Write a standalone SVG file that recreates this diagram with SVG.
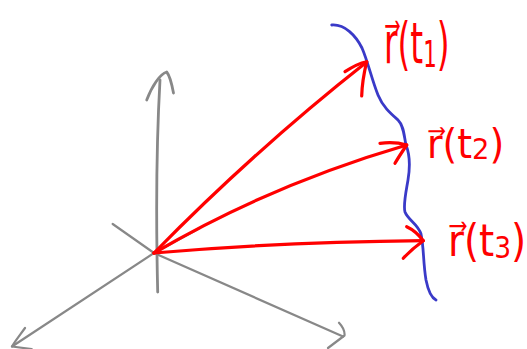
<svg xmlns="http://www.w3.org/2000/svg" width="527" height="349" viewBox="0 0 527 349">
  <style>
    .axis{fill:none;stroke:#888888;stroke-width:2.8;stroke-linecap:round;stroke-linejoin:round}
    .axis-thin{fill:none;stroke:#888888;stroke-width:2.2;stroke-linecap:round;stroke-linejoin:round}
    .vec{fill:none;stroke:#ff0000;stroke-width:3.2;stroke-linecap:round;stroke-linejoin:round}
    .curve{fill:none;stroke:#3a3ac8;stroke-width:2.8;stroke-linecap:round;stroke-linejoin:round}
    .lbl{fill:#ff0000;font-family:"DejaVu Sans","Liberation Sans",sans-serif}
  </style>
  <rect width="527" height="349" fill="#ffffff"/>
  <g id="axes">
    <path class="axis" d="M157.7,292 C156,220 156,150 160,80"/>
    <path class="axis" d="M146.7,100 C152,86 160,74 166.7,72 C170,76 172,85 173.5,93"/>
    <path class="axis-thin" d="M112.7,224 L154,253 L343,336.5"/>
    <path class="axis-thin" d="M339,322.7 C343,327 345,331 344.5,335.5 L328,348"/>
    <path class="axis-thin" d="M200,228 L154,253 L12,346.5"/>
    <path class="axis-thin" d="M25,328 C20,335 15,341 12,346.5 L31.7,349"/>
  </g>
  <g id="curve">
    <path class="curve" d="M331.7,25 C345,24 356,36 362,48 C368,62 372,80 378,95 C383,107 390,113 398,120 C404,126 404,136 406,145 C410,155 410,168 408,180 C406,192 403,205 405,212 C408,220 418,224 421,234 C424,248 423,262 426,280 C428,290 432,298 436,300"/>
  </g>
  <g id="connectors">
    <g id="vec-t1">
      <path class="vec" d="M154,253 Q255,150 366.7,62"/>
      <path class="vec" d="M345,71.7 C352,67 360,63 366.7,61.7 C364,73 362,85 361.7,96"/>
    </g>
    <g id="vec-t2">
      <path class="vec" d="M154,253 Q270,185 406.7,145"/>
      <path class="vec" d="M380,143.3 C390,142 400,143 406.7,145 C402,152 398,158 395,163.3"/>
    </g>
    <g id="vec-t3">
      <path class="vec" d="M154,253 Q280,242 423.3,240.7"/>
      <path class="vec" d="M406.7,226.7 C414,230 419,235 423.3,240.7 C416,246 409,252 403.3,258.3"/>
    </g>
  </g>
  <g id="label-t1" transform="translate(384,63) scale(0.82,1.4)">
    <text class="lbl" x="0" y="0" font-size="40">r⃗(t<tspan font-size="26" dy="3">1</tspan><tspan dy="-3">)</tspan></text>
  </g>
  <g id="label-t2" transform="translate(427,158) scale(1.05,1.12)">
    <text class="lbl" x="0" y="0" font-size="36">r⃗(t<tspan font-size="26" dy="1">2</tspan><tspan dy="-1">)</tspan></text>
  </g>
  <g id="label-t3" transform="translate(448,256) scale(1.02,1.18)">
    <text class="lbl" x="0" y="0" font-size="38">r⃗(t<tspan font-size="26" dy="2">3</tspan><tspan dy="-2">)</tspan></text>
  </g>
</svg>
